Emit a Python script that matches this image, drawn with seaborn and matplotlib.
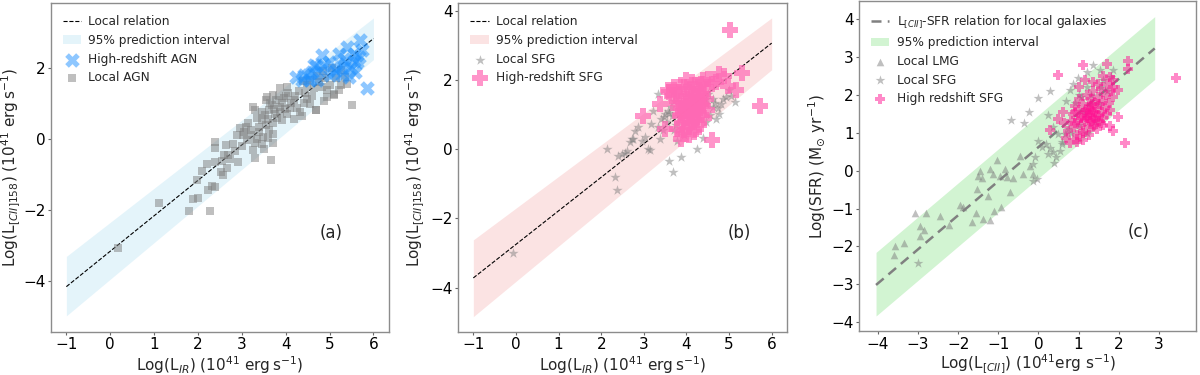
import matplotlib
matplotlib.use("Agg")
import matplotlib.pyplot as plt
import numpy as np
import pandas as pd
import seaborn as sns

# ---------------- data ----------------
# panel (a): local relation and prediction band
rel_a_x = [-1.0, 6.0]
rel_a_y = [-4.15, 2.82]
band_a_lo = [-4.97, 2.23]
band_a_hi = [-3.30, 3.40]

agn_local = [
    (0.17, -3.06), (1.11, -1.80), (1.80, -2.03), (2.27, -2.03), (1.89, -1.69), (2.01, -1.65),
    (1.97, -1.15), (2.10, -0.90), (2.20, -0.71), (2.23, -1.43), (2.33, -1.31), (2.39, -1.35),
    (2.39, -0.65), (2.54, -0.61), (2.52, -0.92), (2.56, -1.01), (2.67, -0.82), (2.69, -0.45),
    (2.74, -0.55), (2.92, -0.64), (2.39, -0.08), (2.39, -0.24), (2.63, -0.17), (2.79, -0.13),
    (3.03, 0.11), (2.96, 0.30), (3.10, 0.35), (3.20, 0.25), (3.26, 0.91), (3.30, 0.82),
    (3.11, -0.03), (3.30, -0.12), (3.30, -0.54), (3.66, -0.59), (3.51, -0.28), (3.59, 0.02),
    (3.70, 0.14), (3.38, 0.35), (3.46, 0.53), (3.53, 0.67), (3.61, 0.81), (3.68, 0.95),
    (3.72, 1.23), (3.79, 1.09), (3.86, 0.90), (3.56, 1.09), (3.76, 0.71), (3.91, 0.53),
    (4.02, 0.71), (3.95, 1.15), (4.06, 1.29), (4.18, 1.09), (4.18, 0.57), (4.32, 0.76),
    (4.37, 0.65), (4.10, 0.88), (4.25, 0.88), (4.41, 1.02), (4.48, 1.12), (4.56, 0.98),
    (4.70, 0.81), (4.87, 1.07), (4.95, 1.19), (5.10, 1.25), (5.21, 1.38), (5.25, 1.52),
    (5.02, 1.52), (4.83, 1.47), (4.64, 1.42), (4.48, 1.52), (4.40, 1.62), (4.56, 1.67),
    (4.71, 1.76), (4.86, 1.90), (5.05, 2.00), (5.25, 1.95), (5.51, 0.95), (4.94, 1.37),
    (5.09, 1.23), (4.68, 0.81), (3.05, 0.20), (3.15, 0.45), (3.22, 0.10), (3.35, 0.60),
    (3.40, 0.20), (3.45, 0.75), (3.48, 0.05), (3.55, 0.40), (3.60, 0.55), (3.62, 0.25),
    (3.65, 1.00), (3.70, 0.45), (3.74, 0.85), (3.80, 0.60), (3.84, 1.20), (3.88, 0.75),
    (3.92, 1.00), (3.98, 0.85), (4.00, 1.20), (4.12, 1.00), (4.22, 1.20), (4.30, 1.35),
    (4.45, 1.30), (4.60, 1.20), (4.75, 1.60), (4.90, 1.70), (5.15, 1.70), (5.35, 1.75),
    (5.40, 1.55), (3.00, -0.20), (2.85, -0.35), (3.25, -0.30), (3.35, 0.00), (3.45, -0.15),
    (2.90, 0.10), (3.70, -0.10), (2.60, -0.45), (3.57, 1.19), (3.87, 1.42), (4.03, 1.47),
]
agn_high = [
    (4.24, 1.73), (4.41, 1.79), (4.60, 1.89), (4.83, 2.35), (4.98, 2.17), (4.79, 1.93),
    (5.09, 1.89), (5.25, 2.03), (5.40, 2.59), (5.55, 2.40), (5.70, 2.77), (5.63, 2.17),
    (5.29, 1.79), (5.44, 1.75), (5.86, 1.42), (4.71, 1.65), (4.56, 1.65), (4.37, 1.65),
    (5.21, 2.40), (4.64, 2.07), (5.48, 1.98), (5.59, 1.89), (4.87, 2.07), (5.32, 2.26),
    (5.67, 2.30), (5.02, 1.79), (4.50, 1.80), (4.70, 2.05), (5.15, 1.95), (5.35, 2.10),
    (5.55, 2.20), (5.75, 2.50),
]

# panel (b)
rel_b_x = [-1.0, 6.0]
rel_b_y = [-3.72, 3.07]
band_b_lo = [-4.84, 2.30]
band_b_hi = [-2.62, 3.80]

sfg_local_b = [
    (-0.06, -3.00), (2.13, 0.01), (2.33, -0.81), (2.38, -1.19), (2.49, -0.14), (2.40, -0.18),
    (2.61, -0.04), (2.68, 0.20), (2.72, 0.29), (2.80, 0.54), (2.87, 0.64), (3.02, 0.35),
    (3.10, 0.01), (3.14, -0.01), (3.18, 0.73), (3.22, 1.12), (3.33, 0.64), (3.37, 0.29),
    (3.41, 0.88), (3.49, 1.02), (3.56, 1.12), (3.63, 1.21), (3.60, -0.33), (3.68, -0.66),
    (3.88, -0.23), (4.24, 0.01), (4.39, 0.33), (4.47, 0.78), (4.47, 1.31), (4.62, 1.46),
    (4.70, 0.88), (4.76, 1.02), (4.81, 1.31), (4.93, 1.50), (4.99, 1.70), (5.14, 1.36),
    (4.62, 1.21), (4.51, 1.60), (3.33, 1.60), (2.95, 0.25), (2.74, 0.30), (3.48, 0.92),
    (3.71, 1.41), (3.79, 0.25), (3.65, 0.95), (3.75, 0.70), (3.85, 0.95), (3.55, 0.80),
    (3.70, 0.55), (3.60, 1.05), (3.90, 0.60), (4.55, 1.00), (4.68, 1.35), (4.85, 1.45),
    (5.05, 1.55), (4.45, 1.45), (4.75, 1.20), (3.95, 0.40), (3.45, 0.55), (2.55, -0.10),
]
sfg_high_b = [
    (3.65, 1.55), (3.70, 1.70), (3.75, 1.35), (3.80, 1.20), (3.82, 1.60), (3.85, 0.95),
    (3.88, 1.40), (3.90, 0.75), (3.92, 1.10), (3.95, 1.80), (3.95, 0.55), (3.98, 1.30),
    (4.00, 0.90), (4.02, 1.55), (4.05, 1.15), (4.05, 0.65), (4.08, 1.75), (4.10, 1.00),
    (4.10, 1.40), (4.12, 0.80), (4.15, 1.25), (4.15, 1.60), (4.18, 0.50), (4.20, 1.05),
    (4.20, 1.85), (4.22, 1.35), (4.25, 0.85), (4.25, 1.55), (4.28, 1.15), (4.30, 1.70),
    (4.30, 0.70), (4.32, 1.40), (4.35, 1.00), (4.35, 1.90), (4.38, 1.25), (4.40, 1.60),
    (4.42, 0.90), (4.45, 1.45), (4.45, 1.80), (4.48, 1.15), (3.78, 0.60), (3.85, 1.80),
    (4.00, 2.00), (4.12, 1.95), (4.22, 0.60), (4.05, 0.40), (3.92, 0.45), (4.38, 2.00),
    (4.00, 1.10), (4.15, 0.95), (4.28, 1.30), (4.10, 1.50), (3.88, 1.00), (4.20, 1.20),
    (4.33, 1.50), (3.95, 1.25), (4.08, 0.75),
    (5.03, 3.46), (2.99, 0.97), (3.38, 1.31), (3.49, 0.59), (4.59, 0.27), (3.88, 0.31),
    (5.73, 1.26), (4.77, 2.18), (5.31, 2.22), (5.16, 1.72), (4.89, 2.13), (4.97, 1.84),
    (3.56, 1.70), (3.71, 1.79), (3.60, 1.65), (4.51, 2.03), (4.70, 1.95), (4.60, 1.90),
]

# panel (c)
rel_c_x = [-4.05, 2.90]
rel_c_y = [-3.02, 3.23]
band_c_lo = [-3.84, 2.41]
band_c_hi = [-2.16, 4.07]

lmg_local = [
    (-3.57, -1.98), (-3.59, -2.22), (-3.36, -1.90), (-3.09, -1.12), (-2.80, -1.12), (-2.96, -1.47),
    (-2.86, -1.57), (-2.95, -1.72), (-2.45, -1.21), (-2.22, -1.43), (-1.95, -0.90), (-1.87, -0.95),
    (-1.66, -1.35), (-1.55, -1.11), (-1.39, -1.28), (-1.21, -1.30), (-1.12, -1.06), (-0.93, -0.97),
    (-0.72, -0.57), (-1.50, -0.15), (-1.46, 0.00), (-1.41, -0.20), (-1.25, -0.66), (-1.21, 0.04),
    (-1.04, 0.28), (-1.14, -0.09), (-0.96, -0.15), (-0.83, 0.04), (-0.79, -0.18), (-0.63, -0.20),
    (-0.46, 0.38), (-0.38, -0.09), (-0.21, 0.13), (-0.13, -0.09), (-1.54, -0.49),
]
sfg_local_c = [
    (-3.01, -2.43), (-0.68, 1.34), (-0.36, 1.25), (-0.24, 1.54), (-0.02, 1.92), (0.30, 2.10),
    (0.25, 1.46), (-0.13, -0.26), (-0.03, -0.22), (-0.14, 0.18), (-0.09, 0.35), (0.00, 0.79),
    (0.10, 0.62), (0.25, 0.44), (0.37, 0.49), (0.45, 0.35), (0.20, 0.71), (0.55, 0.53),
    (0.66, 0.97), (0.58, 0.75), (0.74, 1.10), (0.70, 1.85), (0.87, 2.29), (0.99, 2.45),
    (1.20, 2.60), (1.35, 2.80), (1.53, 2.65), (0.78, 2.12), (1.07, 1.94), (1.16, 1.50),
    (1.28, 1.76), (1.57, 2.20), (1.82, 2.47), (1.86, 2.65), (0.37, 1.15), (0.49, 0.97),
    (1.00, 1.20), (1.10, 1.60), (1.30, 2.00), (1.50, 1.80), (1.60, 2.40), (1.20, 2.20),
    (0.90, 1.80), (1.40, 1.30), (1.70, 2.10), (0.80, 1.00), (1.00, 2.00), (1.20, 1.00),
    (0.60, 0.70), (0.40, 0.20), (0.30, 0.60),
]
sfg_high_c = [
    (0.75, 1.05), (0.80, 1.30), (0.85, 1.50), (0.88, 1.15), (0.92, 1.70), (0.95, 0.95),
    (0.98, 1.35), (1.00, 1.60), (1.02, 1.90), (1.05, 1.20), (1.08, 1.45), (1.10, 1.75),
    (1.12, 1.05), (1.15, 1.30), (1.18, 1.60), (1.20, 2.00), (1.22, 1.40), (1.25, 1.15),
    (1.25, 1.70), (1.28, 1.50), (1.30, 1.30), (1.30, 1.90), (1.32, 1.60), (1.35, 1.40),
    (1.35, 2.10), (1.38, 1.20), (1.40, 1.55), (1.40, 1.80), (1.42, 1.35), (1.45, 1.65),
    (1.45, 1.10), (1.48, 1.95), (1.50, 1.45), (1.52, 1.75), (1.55, 1.25), (1.55, 2.15),
    (1.58, 1.55), (1.60, 1.85), (1.62, 1.40), (1.65, 1.65), (1.68, 2.00), (1.70, 1.50),
    (1.72, 2.30), (1.75, 1.80), (1.78, 1.60), (1.80, 2.10), (1.85, 1.95), (1.20, 1.45),
    (1.33, 1.75), (1.27, 1.35), (1.37, 1.55), (1.15, 1.55), (1.43, 1.45), (1.25, 1.60),
    (1.05, 1.40), (0.90, 1.25), (1.10, 1.00), (1.50, 1.30), (1.60, 1.20), (1.00, 2.20),
    (1.15, 2.40), (1.35, 2.35), (1.60, 2.50), (1.85, 2.40), (0.65, 1.25), (0.70, 0.85),
    (0.95, 0.75), (1.25, 0.95),
    (0.50, 2.54), (1.12, 2.80), (1.70, 2.82), (2.24, 2.89), (2.24, 2.69), (3.44, 2.45),
    (1.99, 1.43), (2.15, 0.72), (1.78, 1.19), (1.86, 1.06), (0.29, 1.08), (0.78, 0.72),
    (0.95, 0.84), (1.12, 0.81), (1.36, 1.15), (1.49, 2.29), (1.78, 2.47), (1.86, 2.20),
    (1.99, 2.12), (0.91, 1.54), (0.62, 1.54), (0.49, 1.37),
]


def to_df(pts):
    return pd.DataFrame(pts, columns=["x", "y"])


# ---------------- style ----------------
sns.set_style("ticks")
plt.rcParams["font.family"] = ["DejaVu Sans"]
plt.rcParams["axes.edgecolor"] = "0.55"
plt.rcParams["axes.linewidth"] = 1.0
plt.rcParams["xtick.color"] = "0.4"
plt.rcParams["ytick.color"] = "0.4"
plt.rcParams["xtick.labelcolor"] = "black"
plt.rcParams["ytick.labelcolor"] = "black"

fig = plt.figure(figsize=(12, 3.75), dpi=100)
ax_a = fig.add_axes([0.0425, 0.115, 0.2815, 0.877])
ax_b = fig.add_axes([0.382, 0.115, 0.2735, 0.877])
ax_c = fig.add_axes([0.716, 0.117, 0.281, 0.880])

tick_fs = 11
lab_fs = 11
leg_fs = 8.7
leg_kw = dict(loc="upper left", frameon=False, fontsize=leg_fs, handlelength=1.5,
              handletextpad=0.6, borderaxespad=0.6, labelspacing=0.48)
xlab_ir = r"Log(L$_{IR}$) (10$^{41}$ erg$\,$s$^{-1}$)"
ylab_cii = r"Log(L$_{[CII]158}$) (10$^{41}$ erg$\,$s$^{-1}$)"

# ---------------- panel (a) ----------------
ax = ax_a
sns.lineplot(x=rel_a_x, y=rel_a_y, ax=ax, color="black", lw=0.8, linestyle="--",
             label="Local relation")
ax.fill_between(rel_a_x, band_a_lo, band_a_hi, color="skyblue", alpha=0.22, lw=0,
                label="95% prediction interval")
sns.scatterplot(data=to_df(agn_local), x="x", y="y", ax=ax, marker="s", s=28,
                color="grey", alpha=0.5, linewidth=0, label="Local AGN", zorder=3)
sns.scatterplot(data=to_df(agn_high), x="x", y="y", ax=ax, marker="X", s=110,
                color="dodgerblue", alpha=0.5, linewidth=0, label="High-redshift AGN", zorder=4)
h, l = ax.get_legend_handles_labels()
order = [0, 1, 3, 2]
ax.legend([h[i] for i in order], [l[i] for i in order], **leg_kw)
ax.set_xlim(-1.35, 6.35)
ax.set_ylim(-5.42, 3.82)
ax.set_xticks(range(-1, 7))
ax.set_yticks([-4, -2, 0, 2])
ax.set_xlabel(xlab_ir, fontsize=lab_fs, labelpad=1)
ax.set_ylabel(ylab_cii, fontsize=lab_fs)
ax.yaxis.set_label_coords(-0.084, 0.5)
ax.text(0.83, 0.30, "(a)", transform=ax.transAxes, fontsize=12, ha="center", va="center")

# ---------------- panel (b) ----------------
ax = ax_b
sns.lineplot(x=rel_b_x, y=rel_b_y, ax=ax, color="black", lw=0.8, linestyle="--",
             label="Local relation")
ax.fill_between(rel_b_x, band_b_lo, band_b_hi, color="lightcoral", alpha=0.22, lw=0,
                label="95% prediction interval")
sns.scatterplot(data=to_df(sfg_local_b), x="x", y="y", ax=ax, marker="*", s=60,
                color="grey", alpha=0.5, linewidth=0, label="Local SFG", zorder=3)
sns.scatterplot(data=to_df(sfg_high_b), x="x", y="y", ax=ax, marker="P", s=120,
                color="hotpink", alpha=0.7, linewidth=0, label="High-redshift SFG", zorder=4)
ax.legend(**leg_kw)
ax.set_xlim(-1.35, 6.35)
ax.set_ylim(-5.28, 4.23)
ax.set_xticks(range(-1, 7))
ax.set_yticks([-4, -2, 0, 2, 4])
ax.set_xlabel(xlab_ir, fontsize=lab_fs, labelpad=1)
ax.set_ylabel(ylab_cii, fontsize=lab_fs)
ax.yaxis.set_label_coords(-0.095, 0.5)
ax.text(0.855, 0.30, "(b)", transform=ax.transAxes, fontsize=12, ha="center", va="center")

# ---------------- panel (c) ----------------
ax = ax_c
sns.lineplot(x=rel_c_x, y=rel_c_y, ax=ax, color="grey", lw=1.8, dashes=(4, 2.5),
             label=r"L$_{[CII]}$-SFR relation for local galaxies")
ax.fill_between(rel_c_x, band_c_lo, band_c_hi, color="limegreen", alpha=0.22, lw=0,
                label="95% prediction interval")
sns.scatterplot(data=to_df(lmg_local), x="x", y="y", ax=ax, marker="^", s=30,
                color="grey", alpha=0.5, linewidth=0, label="Local LMG", zorder=3)
sns.scatterplot(data=to_df(sfg_local_c), x="x", y="y", ax=ax, marker="*", s=55,
                color="grey", alpha=0.5, linewidth=0, label="Local SFG", zorder=3)
sns.scatterplot(data=to_df(sfg_high_c), x="x", y="y", ax=ax, marker="P", s=60,
                color="deeppink", alpha=0.5, linewidth=0, label="High redshift SFG", zorder=4)
ax.legend(**leg_kw)
ax.set_xlim(-4.47, 3.94)
ax.set_ylim(-4.24, 4.48)
ax.set_xticks(range(-4, 4))
ax.set_yticks(range(-4, 5))
ax.set_xlabel(r"Log(L$_{[CII]}$) (10$^{41}$erg s$^{-1}$)", fontsize=lab_fs, labelpad=1)
ax.set_ylabel(r"Log(SFR) (M$_{\odot}$ yr$^{-1}$)", fontsize=lab_fs)
ax.yaxis.set_label_coords(-0.093, 0.5)
ax.text(0.83, 0.30, "(c)", transform=ax.transAxes, fontsize=12, ha="center", va="center")

for ax in (ax_a, ax_b, ax_c):
    ax.tick_params(labelsize=tick_fs, length=2.5, pad=1.5)

fig.savefig("out.png", dpi=100)
